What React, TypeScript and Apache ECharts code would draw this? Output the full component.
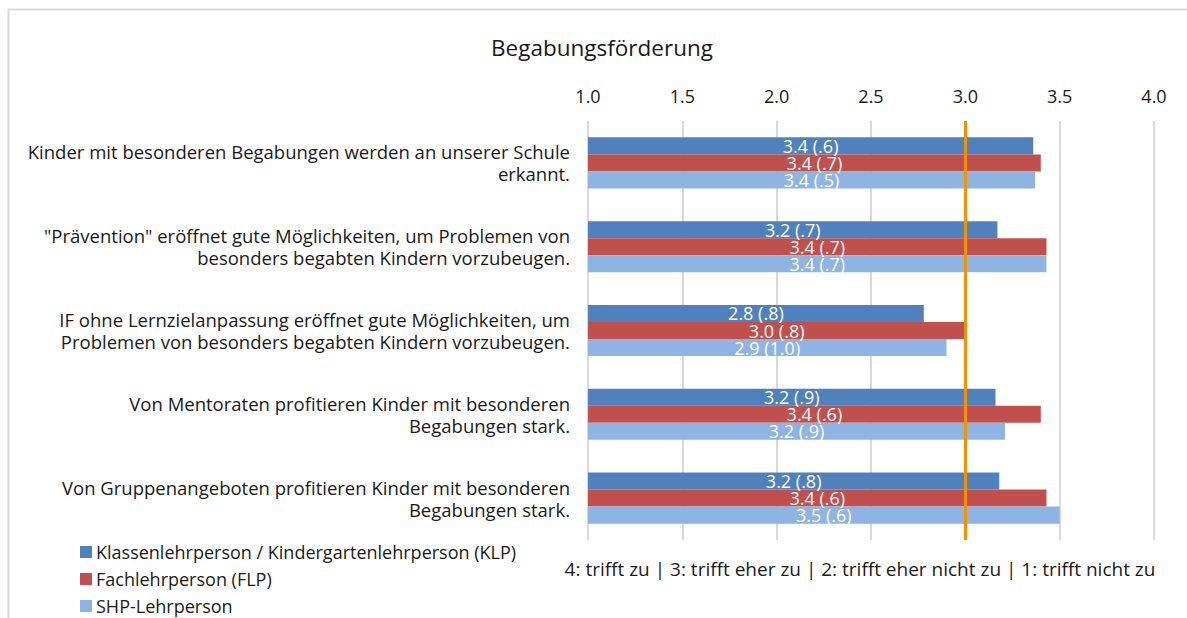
import React, { useEffect, useRef } from "react";
import * as echarts from "echarts";

const categories = [
  "Kinder mit besonderen Begabungen werden an unserer Schule\nerkannt.",
  "\"Prävention\" eröffnet gute Möglichkeiten, um Problemen von\nbesonders begabten Kindern vorzubeugen.",
  "IF ohne Lernzielanpassung eröffnet gute Möglichkeiten, um\nProblemen von besonders begabten Kindern vorzubeugen.",
  "Von Mentoraten profitieren Kinder mit besonderen\nBegabungen stark.",
  "Von Gruppenangeboten profitieren Kinder mit besonderen\nBegabungen stark.",
];

const seriesNames = [
  "Klassenlehrperson / Kindergartenlehrperson (KLP)",
  "Fachlehrperson (FLP)",
  "SHP-Lehrperson",
];

const klpMeans = [3.36, 3.17, 2.78, 3.16, 3.18];
const flpMeans = [3.40, 3.43, 3.0, 3.40, 3.43];
const shpMeans = [3.37, 3.43, 2.9, 3.21, 3.5];

const klpSD = [0.6, 0.7, 0.8, 0.9, 0.8];
const flpSD = [0.7, 0.7, 0.8, 0.6, 0.6];
const shpSD = [0.5, 0.7, 1.0, 0.9, 0.6];

const xTicks = [1.0, 1.5, 2.0, 2.5, 3.0, 3.5, 4.0];
const referenceValue = 3.0;

const titleText = "Begabungsförderung";
const footerText =
  "4: trifft zu | 3: trifft eher zu | 2: trifft eher nicht zu | 1: trifft nicht zu";

const colors = ["#4F81BD", "#C0504D", "#8EB4E3"];
const FONT = "'Open Sans', sans-serif";

function fmtSD(sd: number) {
  const s = sd.toFixed(1);
  return sd < 1 ? s.replace(/^0/, "") : s;
}

export default function App() {
  const ref = useRef<HTMLDivElement>(null);

  useEffect(() => {
    if (!ref.current) return;
    const chart = echarts.init(ref.current, undefined, { renderer: "svg" });
    const means = [klpMeans, flpMeans, shpMeans];
    const sds = [klpSD, flpSD, shpSD];

    const series: any[] = means.map((m, si) => ({
      name: seriesNames[si],
      type: "bar",
      data: m,
      barGap: "0%",
      barCategoryGap: "39%",
      itemStyle: { color: colors[si] },
      label: {
        show: true,
        position: "inside",
        color: "#ffffff",
        fontFamily: FONT,
        fontSize: 18,
        formatter: (p: any) =>
          `${Number(p.value).toFixed(1)} (${fmtSD(sds[si][p.dataIndex])})`,
      },
      z: 3,
    }));
    series[0].markLine = {
      silent: true,
      symbol: "none",
      label: { show: false },
      lineStyle: { color: "#F39200", width: 3, type: "solid" },
      data: [{ xAxis: referenceValue }],
      z: 10,
    };

    chart.setOption({
      animation: false,
      textStyle: { fontFamily: FONT },
      grid: { left: 588, right: 33, top: 121, bottom: 78, containLabel: false },
      xAxis: {
        type: "value",
        position: "top",
        min: xTicks[0],
        max: xTicks[xTicks.length - 1],
        interval: 0.5,
        axisLine: { show: false },
        axisTick: { show: false },
        axisLabel: {
          color: "#1a1a1a",
          fontSize: 18,
          fontFamily: FONT,
          margin: 16,
          formatter: (v: number) => v.toFixed(1),
        },
        splitLine: { show: true, lineStyle: { color: "#d9d9d9", width: 2 } },
      },
      yAxis: {
        type: "category",
        inverse: true,
        data: categories,
        axisLine: { show: false },
        axisTick: { show: false },
        axisLabel: {
          color: "#1a1a1a",
          fontSize: 18.5,
          fontFamily: FONT,
          lineHeight: 22,
          align: "right",
          margin: 18,
        },
      },
      legend: {
        orient: "vertical",
        left: 80,
        top: 542,
        padding: 0,
        itemWidth: 12,
        itemHeight: 12,
        itemGap: 7,
        icon: "rect",
        data: seriesNames,
        textStyle: {
          color: "#1a1a1a",
          fontSize: 18,
          lineHeight: 20,
          fontFamily: FONT,
          padding: [0, 0, 0, -1],
        },
      },
      graphic: [
        {
          type: "line",
          shape: { x1: 8.5, y1: 9, x2: 8.5, y2: 618 },
          style: { stroke: "#d9d9d9", lineWidth: 2 },
          silent: true,
        },
        {
          type: "line",
          shape: { x1: 8, y1: 9.5, x2: 1187, y2: 9.5 },
          style: { stroke: "#d9d9d9", lineWidth: 2 },
          silent: true,
        },
        {
          type: "text",
          x: 602,
          y: 47,
          style: {
            text: titleText,
            fill: "#1a1a1a",
            fontSize: 22.5,
            fontFamily: FONT,
            align: "center",
            verticalAlign: "middle",
          },
        },
        {
          type: "text",
          x: 860,
          y: 569,
          style: {
            text: footerText,
            fill: "#1a1a1a",
            fontSize: 19,
            fontFamily: FONT,
            align: "center",
            verticalAlign: "middle",
          },
        },
      ],
      series,
    });
    return () => chart.dispose();
  }, []);

  return (
    <div
      ref={ref}
      style={{ position: "fixed", left: 0, top: 0, width: 1187, height: 618, background: "#fff" }}
    />
  );
}
